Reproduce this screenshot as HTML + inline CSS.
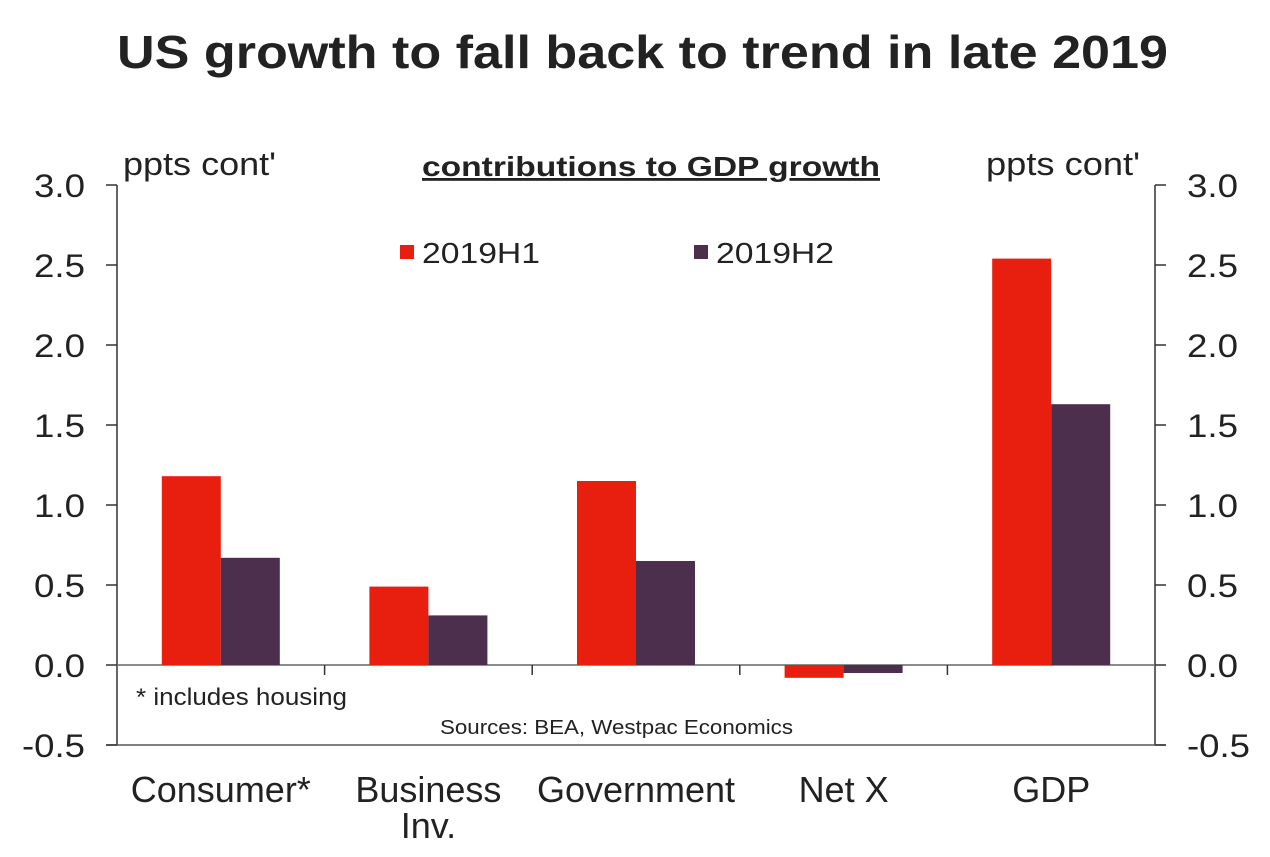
<!DOCTYPE html>
<html><head><meta charset="utf-8"><style>
body{margin:0;background:#fff;}
svg text{font-family:"Liberation Sans",Arial,sans-serif;fill:#222;}
</style></head><body>
<svg width="1270" height="852" viewBox="0 0 1270 852">
<text x="117" y="68" font-size="46" font-weight="bold" fill="#333" textLength="1051" lengthAdjust="spacingAndGlyphs">US growth to fall back to trend in late 2019</text>
<text x="123" y="175" font-size="32" textLength="153" lengthAdjust="spacingAndGlyphs">ppts cont'</text>
<text x="986" y="175" font-size="32" textLength="154" lengthAdjust="spacingAndGlyphs">ppts cont'</text>
<text x="422" y="176" font-size="28" font-weight="bold" text-decoration="underline" textLength="458" lengthAdjust="spacingAndGlyphs">contributions to GDP growth</text>
<g id="axes"></g>
<g id="bars"></g>
<rect x="400" y="245" width="14" height="14" fill="#e81e0e"/>
<text x="422" y="263" font-size="29" textLength="118" lengthAdjust="spacingAndGlyphs">2019H1</text>
<rect x="694" y="245" width="14" height="14" fill="#4b2f4d"/>
<text x="716" y="263" font-size="29" textLength="118" lengthAdjust="spacingAndGlyphs">2019H2</text>
<text x="136" y="705" font-size="24" textLength="211" lengthAdjust="spacingAndGlyphs">* includes housing</text>
<text x="440" y="734" font-size="20" textLength="353" lengthAdjust="spacingAndGlyphs">Sources: BEA, Westpac Economics</text>
</svg>
<script>
const categories=["Consumer*","Business Inv.","Government","Net X","GDP"];
const h1=[1.18,0.49,1.15,-0.08,2.54];
const h2=[0.67,0.31,0.65,-0.05,1.63];
const ticks=[3.0,2.5,2.0,1.5,1.0,0.5,0.0,-0.5];
const NS="http://www.w3.org/2000/svg";
const L=117,R=1155,yMax=3,yMin=-0.5,T=185,B=745;
const y=v=>T+(yMax-v)/(yMax-yMin)*(B-T);
const cw=(R-L)/categories.length;
const cx=i=>L+cw*(i+0.5);
function mk(tag,attrs,parent){const e=document.createElementNS(NS,tag);for(const k in attrs)e.setAttribute(k,attrs[k]);parent.appendChild(e);return e;}
const ax=document.getElementById('axes'),bars=document.getElementById('bars');
let e;
e=mk('line',{x1:L,y1:T,x2:L,y2:B,stroke:'#333','stroke-width':1.5},ax);


e=mk('line',{x1:R,y1:T,x2:R,y2:B,stroke:'#333','stroke-width':1.5},ax);


e=mk('line',{x1:106,y1:B,x2:1166,y2:B,stroke:'#555','stroke-width':1.5},ax);


e=mk('line',{x1:L,y1:y(0),x2:R,y2:y(0),stroke:'#666','stroke-width':1.5},ax);


ticks.forEach(t=>{
 mk('line',{x1:106,y1:y(t),x2:L,y2:y(t),stroke:'#333','stroke-width':1.5},ax);
 mk('line',{x1:R,y1:y(t),x2:1166,y2:y(t),stroke:'#333','stroke-width':1.5},ax);
 const s=t.toFixed(1),w=s.length>3?63:51;
 e=mk('text',{x:85-w,y:y(t)+12,'font-size':32,textLength:w,lengthAdjust:'spacingAndGlyphs'},ax);e.textContent=s;
 
 
 e=mk('text',{x:1187,y:y(t)+12,'font-size':32,textLength:w,lengthAdjust:'spacingAndGlyphs'},ax);e.textContent=s;
 
 
});
for(let i=1;i<categories.length;i++){mk('line',{x1:L+cw*i,y1:y(0),x2:L+cw*i,y2:y(0)+10,stroke:'#333','stroke-width':1.5},ax);}
const bw=59;
categories.forEach((c,i)=>{
 [[h1,'#e81e0e',-bw,'2019h1'],[h2,'#4b2f4d',0,'2019h2']].forEach(([s,col,off,nm])=>{
  const v=s[i],y0=y(0),yv=y(v);
  e=mk('rect',{x:cx(i)+off,y:Math.min(y0,yv),width:bw,height:Math.abs(yv-y0),fill:col},bars);
  
  
 });
 const words=c==="Business Inv."?["Business","Inv."]:[c];
 words.forEach((w,j)=>{
  e=mk('text',{x:cx(i),y:802+j*36,'font-size':36,'text-anchor':'middle'},ax);e.textContent=w;
  
  
 });
});
</script>
</body></html>
